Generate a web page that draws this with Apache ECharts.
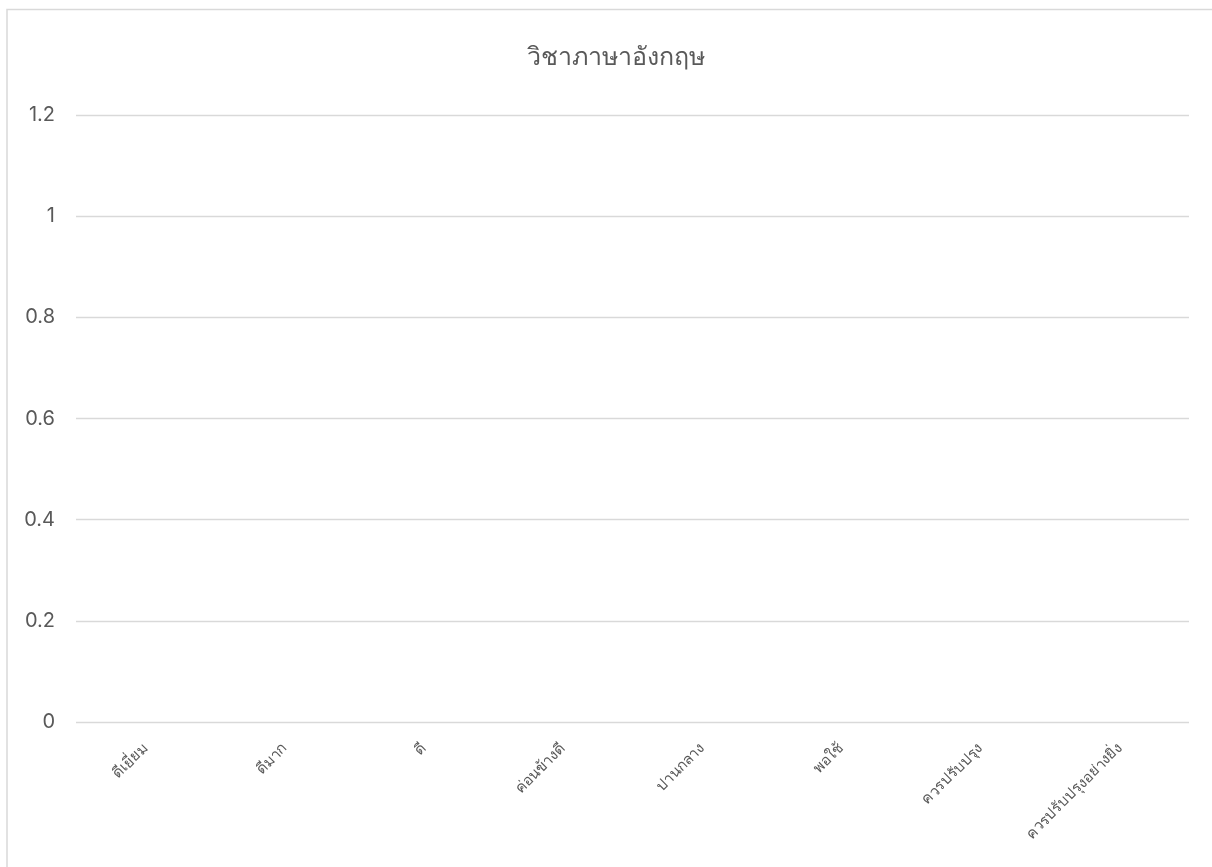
<!DOCTYPE html>
<html><head><meta charset="utf-8">
<script src="https://cdn.jsdelivr.net/npm/echarts@6/dist/echarts.min.js"></script>
<style>html,body{margin:0;padding:0;background:#fff}#c{width:1212px;height:867px}</style>
</head><body><div id="c"></div>
<script>
const title = 'วิชาภาษาอังกฤษ';
const categories = ['ดีเยี่ยม','ดีมาก','ดี','ค่อนข้างดี','ปานกลาง','พอใช้','ควรปรับปรุง','ควรปรับปรุงอย่างยิ่ง'];
const values = [0,0,0,0,0,0,0,0];
const yTicks = {min:0, max:1.2, interval:0.2};

const chart = echarts.init(document.getElementById('c'));
chart.setOption({
  animation:false,
  backgroundColor:'#fff',
  graphic:[{type:'rect',shape:{x:7,y:9.5,width:1300,height:1000},style:{fill:'none',stroke:'#d9d9d9',lineWidth:1.5},silent:true}],
  title:{text:title,left:522,top:40,textStyle:{fontFamily:'Noto Sans, Tahoma',fontSize:25,fontWeight:'normal',color:'#595959'}},
  grid:{left:76,right:23,top:115,bottom:145,containLabel:false},
  xAxis:{type:'category',data:categories,
    axisLine:{show:false},axisTick:{show:false},
    axisLabel:{rotate:45,interval:0,color:'#595959',fontSize:15,fontFamily:'Noto Sans, Tahoma',margin:24}},
  yAxis:{type:'value',min:yTicks.min,max:yTicks.max,interval:yTicks.interval,
    axisLine:{show:false},axisTick:{show:false},
    axisLabel:{color:'#595959',fontSize:20,fontFamily:'Inter, Noto Sans',margin:21,formatter:v=>String(+v.toFixed(1))},
    splitLine:{lineStyle:{color:'#d9d9d9',width:1.3}}},
  series:[{type:'bar',data:values,itemStyle:{color:'#4472c4'}}]
});
</script></body></html>
